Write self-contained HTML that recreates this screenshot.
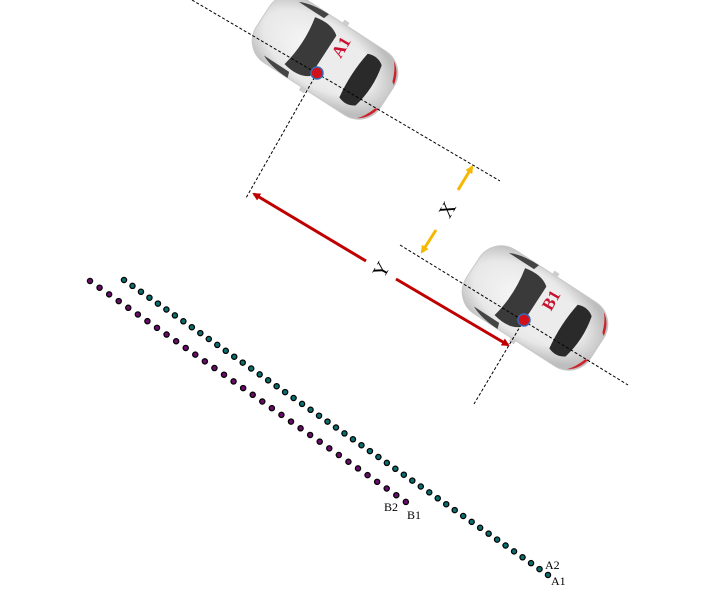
<!DOCTYPE html>
<html><head><meta charset="utf-8"><style>html,body{margin:0;padding:0;background:#fff}svg{display:block}</style></head><body>
<svg width="719" height="601" viewBox="0 0 719 601" xmlns="http://www.w3.org/2000/svg">
<defs>
<radialGradient id="bg" cx="0.45" cy="0.5" r="0.6"><stop offset="0" stop-color="#fafafa"/><stop offset="0.7" stop-color="#e8e8e8"/><stop offset="1" stop-color="#bdbdbd"/></radialGradient>
<g id="car">
<rect x="-74" y="-38" width="148" height="76" rx="26" fill="url(#bg)" stroke="#c8c8c8" stroke-width="1"/>
<path d="M-52,-32 Q-40,-38 -20,-38 L-22,-32 Z" fill="#444"/>
<path d="M-52,32 Q-40,38 -20,38 L-22,32 Z" fill="#444"/>
<path d="M-30,-28 Q-12,-32 -2,-24 L-2,24 Q-12,32 -30,28 Q-24,0 -30,-28 Z" fill="#3a3a3a"/>
<path d="M-2,-24 L34,-25 L34,25 L-2,24 Z" fill="#ececec"/>
<path d="M34,-26 Q44,-30 52,-24 Q58,0 52,24 Q44,30 34,26 Q30,0 34,-26 Z" fill="#2a2a2a"/>
<path d="M60,-34 Q70,-28 73,-14 L70,-16 Q66,-28 60,-34 Z" fill="#d0202a"/>
<path d="M60,34 Q70,28 73,14 L70,16 Q66,28 60,34 Z" fill="#d0202a"/>
<rect x="-4" y="-42" width="6" height="5" fill="#ccc"/>
<rect x="-4" y="37" width="6" height="5" fill="#ccc"/>
</g>
<marker id="ra" markerWidth="8" markerHeight="8" refX="6" refY="4" orient="auto" markerUnits="userSpaceOnUse"><path d="M0,0 L8,4 L0,8 Z" fill="#c00000"/></marker>
<marker id="oa" markerWidth="8" markerHeight="8" refX="6" refY="4" orient="auto" markerUnits="userSpaceOnUse"><path d="M0,0 L8,4 L0,8 Z" fill="#f5b800"/></marker>
</defs>
<use href="#car" transform="translate(325,57) rotate(33)"/>
<use href="#car" transform="translate(535,308) rotate(33)"/>
<g stroke="#000" stroke-width="1" stroke-dasharray="3,2" fill="none">
<line x1="192" y1="0" x2="500" y2="181"/>
<line x1="400" y1="245" x2="628" y2="385"/>
<line x1="317" y1="73" x2="246" y2="198"/>
<line x1="524" y1="320" x2="474" y2="404"/>
</g>
<circle cx="317" cy="73" r="6" fill="#d0101a" stroke="#3a6ab0" stroke-width="1.5"/>
<circle cx="524" cy="320" r="6" fill="#d0101a" stroke="#3a6ab0" stroke-width="1.5"/>
<text transform="translate(346,50) rotate(-60)" font-family="Liberation Serif,serif" font-weight="bold" font-size="17" fill="#c8102e" text-anchor="middle">A1</text>
<text transform="translate(556,303) rotate(-60)" font-family="Liberation Serif,serif" font-weight="bold" font-size="17" fill="#c8102e" text-anchor="middle">B1</text>
<g stroke="#c00000" stroke-width="3">
<line x1="366" y1="261" x2="254" y2="194" marker-end="url(#ra)"/>
<line x1="396" y1="279" x2="508" y2="345" marker-end="url(#ra)"/>
</g>
<g stroke="#f5b800" stroke-width="3">
<line x1="458" y1="190" x2="472" y2="167" marker-end="url(#oa)"/>
<line x1="436" y1="230" x2="422" y2="252" marker-end="url(#oa)"/>
</g>
<text transform="translate(453,213) rotate(-60)" font-family="Liberation Serif,serif" font-size="20" text-anchor="middle">X</text>
<text transform="translate(387,273) rotate(-60)" font-family="Liberation Serif,serif" font-size="20" text-anchor="middle">Y</text>
<g fill="none" stroke-linecap="round">
<line x1="124" y1="280" x2="548" y2="575" stroke="#000" stroke-width="6.5" stroke-dasharray="0 10.33"/>
<line x1="124" y1="280" x2="548" y2="575" stroke="#0a6e6e" stroke-width="4" stroke-dasharray="0 10.33"/>
<line x1="90" y1="281" x2="406" y2="502" stroke="#000" stroke-width="6.5" stroke-dasharray="0 11.68"/>
<line x1="90" y1="281" x2="406" y2="502" stroke="#6a0a6a" stroke-width="4" stroke-dasharray="0 11.68"/>
</g>
<g font-family="Liberation Serif,serif" font-size="12" fill="#000">
<text x="384" y="511">B2</text><text x="407" y="519">B1</text>
<text x="545" y="569">A2</text><text x="551" y="585">A1</text>
</g>
</svg>
</body></html>
